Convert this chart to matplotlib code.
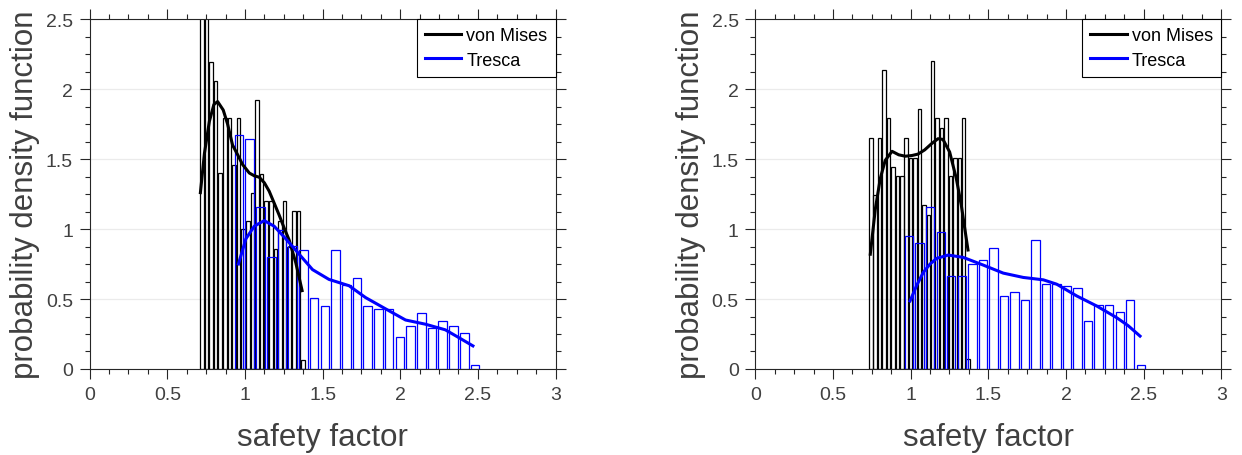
#!/usr/bin/env python3
# -*- coding: utf-8 -*-
"""Safety factor histograms (von Mises vs Tresca) with smoothed density curves, two panels."""
import numpy as np
import matplotlib
matplotlib.use("Agg")
import matplotlib.pyplot as plt
from matplotlib.ticker import MultipleLocator, FormatStrFormatter

plt.rcParams["font.family"] = ["Liberation Sans", "DejaVu Sans"]

# ---- left panel -------------------------------------------------------------
# histogram bins: (first bin center, last bin center), 23 bins each
L_VM_RANGE = (0.722, 1.374)
L_VM_H = [2.9, 2.9, 2.19, 2.06, 1.40, 1.79, 1.79, 1.46, 1.79, 1.00, 1.06, 1.26,
          1.92, 1.39, 1.20, 1.20, 0.86, 1.06, 1.20, 0.87, 1.13, 1.13, 0.067]
L_TR_RANGE = (0.962, 2.481)
L_TR_H = [1.67, 1.64, 1.16, 0.80, 0.99, 0.88, 0.85, 0.51, 0.45, 0.85, 0.60, 0.65,
          0.45, 0.43, 0.43, 0.23, 0.31, 0.40, 0.29, 0.34, 0.31, 0.26, 0.03]
L_VM_CX = [0.713, 0.739, 0.771, 0.800, 0.824, 0.860, 0.888, 0.920, 0.953, 0.985,
           1.028, 1.060, 1.092, 1.125, 1.156, 1.190, 1.220, 1.255, 1.285, 1.327, 1.368]
L_VM_CY = [1.26, 1.54, 1.77, 1.89, 1.91, 1.85, 1.75, 1.60, 1.53, 1.46,
           1.40, 1.38, 1.37, 1.33, 1.27, 1.18, 1.10, 1.00, 0.92, 0.76, 0.56]
L_TR_CX = [0.958, 1.006, 1.060, 1.124, 1.188, 1.263, 1.349, 1.435, 1.541, 1.670,
           1.777, 1.905, 2.034, 2.162, 2.290, 2.376, 2.468]
L_TR_CY = [0.75, 0.93, 1.02, 1.06, 1.02, 0.93, 0.82, 0.71, 0.64, 0.595,
           0.51, 0.43, 0.35, 0.32, 0.28, 0.225, 0.165]

# ---- right panel ------------------------------------------------------------
R_VM_RANGE = (0.743, 1.370)
R_VM_H = [1.65, 1.24, 1.65, 2.135, 1.79, 1.44, 1.38, 1.38, 1.65, 1.51, 1.51, 1.855,
          1.17, 1.10, 2.20, 1.79, 1.72, 1.79, 1.38, 1.51, 1.51, 1.79, 0.068]
R_TR_RANGE = (0.990, 2.482)
R_TR_H = [0.95, 0.90, 1.155, 0.98, 0.665, 0.665, 0.75, 0.78, 0.865, 0.52, 0.55, 0.49,
          0.925, 0.605, 0.605, 0.59, 0.58, 0.345, 0.46, 0.46, 0.405, 0.49, 0.027]
R_VM_CX = [0.740, 0.772, 0.804, 0.836, 0.880, 0.923, 0.965, 1.008, 1.047, 1.090,
           1.135, 1.176, 1.208, 1.251, 1.294, 1.326, 1.369]
R_VM_CY = [0.82, 1.14, 1.36, 1.49, 1.555, 1.53, 1.52, 1.525, 1.535, 1.565,
           1.61, 1.645, 1.64, 1.55, 1.36, 1.17, 0.85]
R_TR_CX = [0.996, 1.040, 1.081, 1.125, 1.167, 1.242, 1.339, 1.468, 1.596, 1.725,
           1.854, 1.940, 2.069, 2.198, 2.326, 2.400, 2.477]
R_TR_CY = [0.486, 0.60, 0.69, 0.75, 0.79, 0.814, 0.797, 0.742, 0.685, 0.654,
           0.637, 0.606, 0.522, 0.45, 0.367, 0.31, 0.235]

XTICKS = [0, 0.5, 1, 1.5, 2, 2.5, 3]
YTICKS = [0, 0.5, 1, 1.5, 2, 2.5]
LEGEND = ["von Mises", "Tresca"]

AX_COL = "#262626"
BLUE = "#0000ff"


def draw_bars(ax, rng, h, color):
    c = np.linspace(rng[0], rng[1], len(h))
    step = c[1] - c[0]
    ax.bar(c, h, width=0.8 * step, fill=False, edgecolor=color, linewidth=0.9, zorder=2)


def panel(ax, vm_rng, vm_h, tr_rng, tr_h, vm_c, tr_c):
    draw_bars(ax, vm_rng, vm_h, "k")
    draw_bars(ax, tr_rng, tr_h, BLUE)
    l1, = ax.plot(vm_c[0], vm_c[1], "-", color="k", lw=2.2, zorder=4)
    l2, = ax.plot(tr_c[0], tr_c[1], "-", color=BLUE, lw=2.2, zorder=4)
    ax.set_xlim(0, 3)
    ax.set_ylim(0, 2.5)
    ax.set_xticks(XTICKS)
    ax.set_yticks(YTICKS)
    ax.xaxis.set_minor_locator(MultipleLocator(0.125))
    ax.yaxis.set_minor_locator(MultipleLocator(0.125))
    ax.xaxis.set_major_formatter(FormatStrFormatter("%g"))
    ax.yaxis.set_major_formatter(FormatStrFormatter("%g"))
    ax.tick_params(which="both", direction="out", top=True, right=True,
                   color=AX_COL, labelcolor="#404040", labelsize=14)
    ax.tick_params(which="major", length=7, width=0.8)
    ax.tick_params(which="minor", length=3.6, width=0.8)
    ax.tick_params(axis="x", pad=5)
    ax.tick_params(axis="y", pad=5)
    ax.yaxis.grid(True, color="#ebebeb", lw=0.9, zorder=0)
    ax.set_axisbelow(True)
    for s in ax.spines.values():
        s.set_color(AX_COL)
        s.set_linewidth(0.8)
    ax.set_xlabel("safety factor", fontsize=22.5, color="#404040", labelpad=14)
    ax.set_ylabel("probability density function", fontsize=22.5, color="#404040", labelpad=4)
    leg = ax.legend([l1, l2], LEGEND, loc="upper right", fontsize=13, frameon=True,
                    fancybox=False, borderaxespad=0, handlelength=2.0,
                    labelspacing=0.42, borderpad=0.45, handletextpad=0.3)
    leg.get_frame().set_edgecolor("k")
    leg.get_frame().set_linewidth(0.8)
    leg.get_frame().set_alpha(1)


fig = plt.figure(figsize=(12.42, 4.56), dpi=100)
ax1 = fig.add_axes([0.0722, 0.1886, 0.3751, 0.7675])
ax2 = fig.add_axes([0.6082, 0.1886, 0.3751, 0.7675])
panel(ax1, L_VM_RANGE, L_VM_H, L_TR_RANGE, L_TR_H, (L_VM_CX, L_VM_CY), (L_TR_CX, L_TR_CY))
panel(ax2, R_VM_RANGE, R_VM_H, R_TR_RANGE, R_TR_H, (R_VM_CX, R_VM_CY), (R_TR_CX, R_TR_CY))
fig.savefig("out.png", dpi=100)
